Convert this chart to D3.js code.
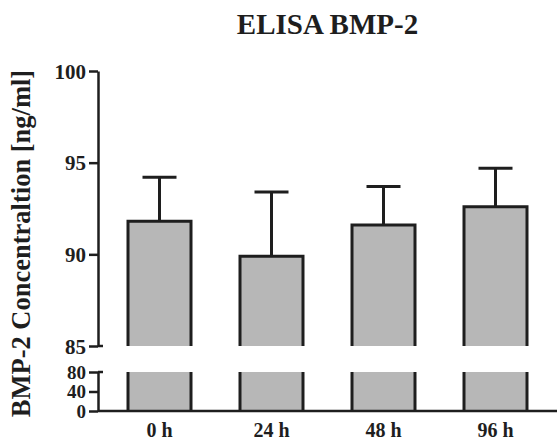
<!DOCTYPE html>
<html><head><meta charset="utf-8">
<script src="https://cdn.jsdelivr.net/npm/d3@7"></script>
<style>body{margin:0;background:#fff}svg{display:block}text{font-family:"Liberation Serif","Times New Roman",serif;font-weight:bold;fill:#1e1e1e}</style>
</head><body>
<script>
const categories = ["0 h", "24 h", "48 h", "96 h"];
const means = [91.8, 89.9, 91.6, 92.6];
const upperErr = [94.2, 93.4, 93.7, 94.7];
const upperTicks = [85, 90, 95, 100];
const lowerTicks = [0, 40, 80];
const title = "ELISA BMP-2";
const yTitle = "BMP-2 Concentraltion [ng/ml]";

const W = 557, H = 442;
const svg = d3.select("body").append("svg").attr("width", W).attr("height", H);
const axX = 98;
const yUp = d3.scaleLinear().domain([85, 100]).range([346, 71]);
const yLo = d3.scaleLinear().domain([0, 80]).range([411, 372]);
const x = d3.scaleBand().domain(categories).range([103.5, 551.5]).paddingInner(0.4375).paddingOuter(0.21875);
const ink = "#1e1e1e", sw = 3;

// bars upper segment
const g = svg.append("g");
categories.forEach((c, i) => {
  const x0 = x(c), x1 = x(c) + x.bandwidth();
  const top = yUp(means[i]);
  g.append("rect").attr("x", x0).attr("y", top).attr("width", x.bandwidth()).attr("height", yUp(85) - top).attr("fill", "#b7b7b7");
  g.append("path").attr("d", `M${x0},${yUp(85)}V${top}H${x1}V${yUp(85)}`).attr("fill", "none").attr("stroke", ink).attr("stroke-width", sw).attr("stroke-linejoin", "miter");
  // lower segment
  g.append("rect").attr("x", x0).attr("y", yLo(80)).attr("width", x.bandwidth()).attr("height", yLo(0) - yLo(80)).attr("fill", "#b7b7b7");
  g.append("line").attr("x1", x0).attr("x2", x0).attr("y1", yLo(80)).attr("y2", yLo(0)).attr("stroke", ink).attr("stroke-width", sw);
  g.append("line").attr("x1", x1).attr("x2", x1).attr("y1", yLo(80)).attr("y2", yLo(0)).attr("stroke", ink).attr("stroke-width", sw);
  // error bar
  const cx = x0 + x.bandwidth() / 2;
  g.append("line").attr("x1", cx).attr("x2", cx).attr("y1", top).attr("y2", yUp(upperErr[i])).attr("stroke", ink).attr("stroke-width", sw);
  g.append("line").attr("x1", cx - 17).attr("x2", cx + 17).attr("y1", yUp(upperErr[i])).attr("y2", yUp(upperErr[i])).attr("stroke", ink).attr("stroke-width", sw);
});

// upper y axis
const aUp = svg.append("g").attr("transform", `translate(${axX},0)`)
  .call(d3.axisLeft(yUp).tickValues(upperTicks).tickSize(9).tickPadding(3).tickSizeOuter(0));
aUp.select(".domain").attr("stroke", ink).attr("stroke-width", 2.5);
aUp.selectAll(".tick line").attr("stroke", ink).attr("stroke-width", 2.5);
aUp.selectAll(".tick text").attr("font-size", 21).attr("font-family", null).attr("fill", ink).attr("dy", "0.34em");
// right extension at 85
svg.append("line").attr("x1", axX).attr("x2", axX + 5).attr("y1", yUp(85)).attr("y2", yUp(85)).attr("stroke", ink).attr("stroke-width", 2.5);

// lower y axis
const aLo = svg.append("g").attr("transform", `translate(${axX},0)`)
  .call(d3.axisLeft(yLo).tickValues(lowerTicks).tickSize(9).tickPadding(3).tickSizeOuter(0));
aLo.select(".domain").attr("stroke", ink).attr("stroke-width", 2.5);
aLo.selectAll(".tick line").attr("stroke", ink).attr("stroke-width", 2.5);
aLo.selectAll(".tick text").attr("font-size", 19).attr("font-family", null).attr("fill", ink).attr("dy", "0.34em");
svg.append("line").attr("x1", axX).attr("x2", axX + 5).attr("y1", yLo(80)).attr("y2", yLo(80)).attr("stroke", ink).attr("stroke-width", 2.5);

// x axis
const ax = svg.append("g").attr("transform", `translate(0,${yLo(0)})`)
  .call(d3.axisBottom(x).tickSize(0).tickPadding(12));
ax.select(".domain").remove();
svg.append("line").attr("x1", axX).attr("x2", W).attr("y1", yLo(0)).attr("y2", yLo(0)).attr("stroke", ink).attr("stroke-width", 2.5);
ax.selectAll(".tick text").attr("font-size", 20).attr("font-family", null).attr("fill", ink).attr("dy", "0.71em");

// titles
svg.append("text").attr("x", 327.5).attr("y", 34).attr("text-anchor", "middle").attr("font-size", 29).text(title);
svg.append("text").attr("transform", `translate(30,243.5) rotate(-90)`).attr("text-anchor", "middle").attr("font-size", 26.5).text(yTitle);
</script>
</body></html>
